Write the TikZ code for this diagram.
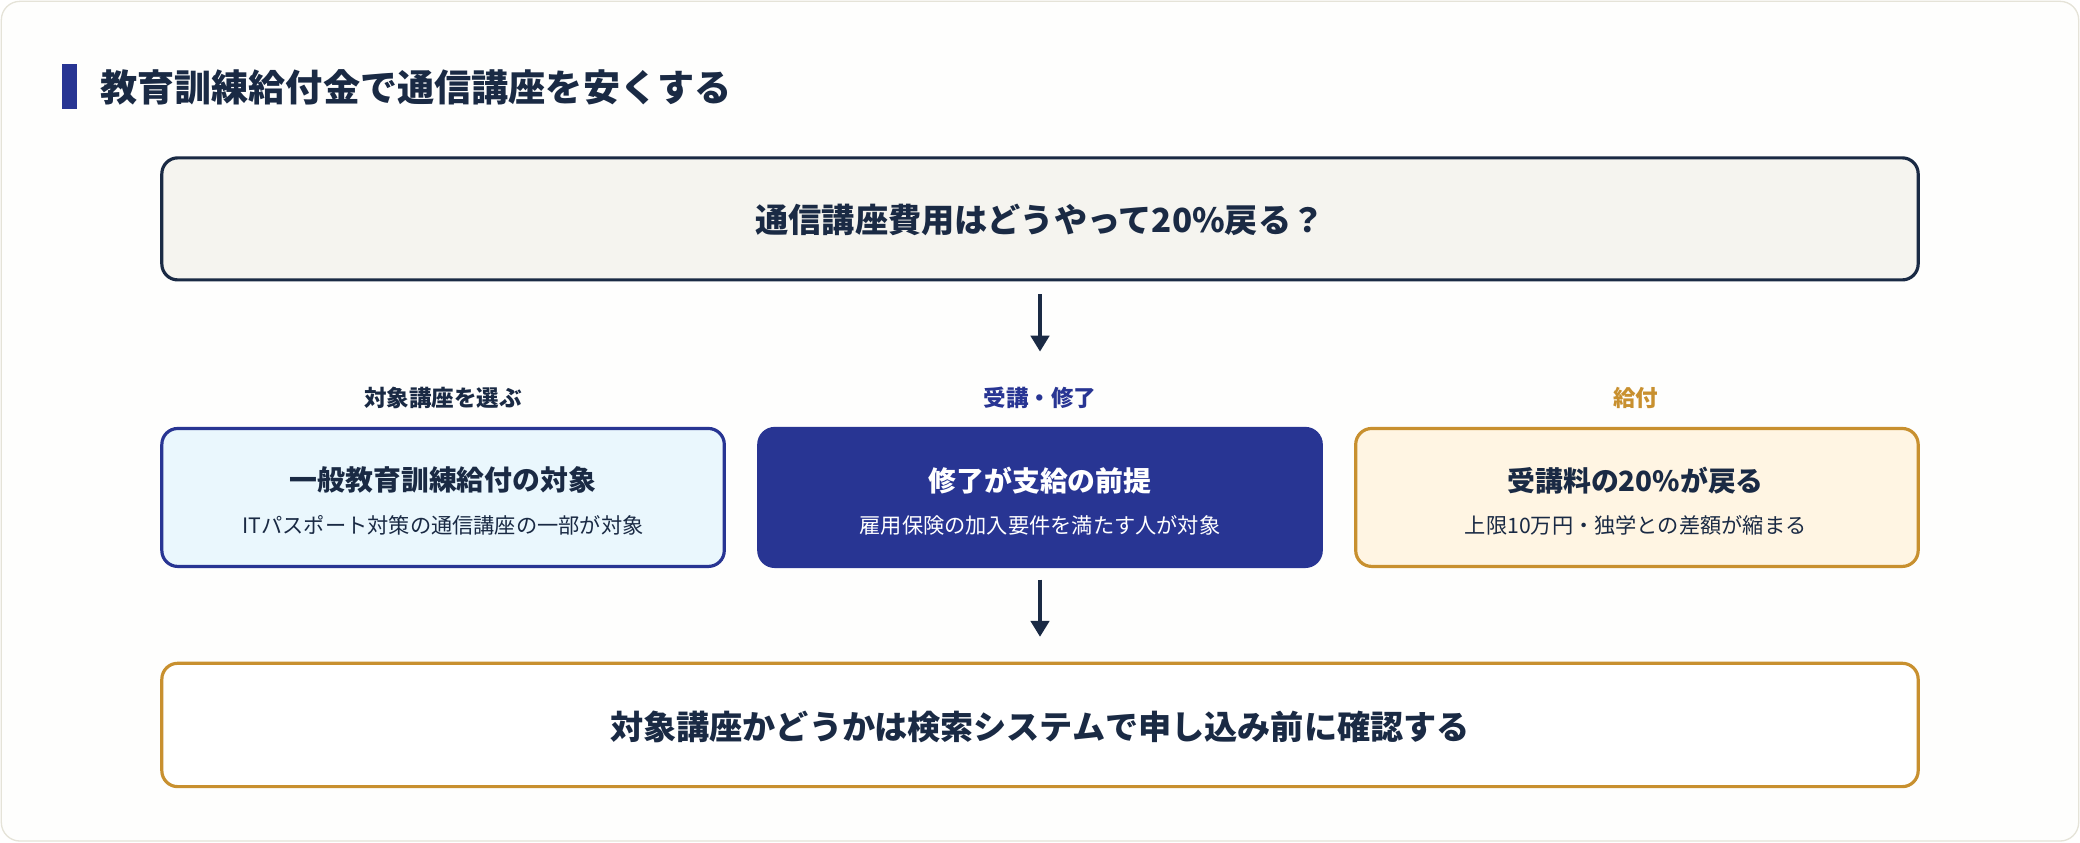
\documentclass[tikz,border=0pt]{standalone}
\usepackage{fontspec}
\setmainfont{Noto Sans CJK JP}
\usetikzlibrary{arrows.meta}
\definecolor{ink}{HTML}{1A2A44}
\definecolor{navy}{HTML}{283593}
\definecolor{gold}{HTML}{C8902F}
\definecolor{cream}{HTML}{F5F4EF}
\definecolor{sky}{HTML}{EAF7FD}
\definecolor{peach}{HTML}{FFF5E3}
\definecolor{bord}{HTML}{E5E3D8}
\begin{document}
\begin{tikzpicture}[x=1pt,y=-1pt,
 box/.style={rounded corners=12pt,line width=2.4pt},
 big/.style={font=\fontsize{25}{30}\selectfont\bfseries,text=ink},
 hd/.style={font=\fontsize{21}{25}\selectfont\bfseries},
 sub/.style={font=\fontsize{16}{20}\selectfont},
 lab/.style={font=\fontsize{17}{20}\selectfont\bfseries},
 arr/.style={-{Triangle[length=12pt,width=14pt]},line width=2.4pt,draw=ink}]
\useasboundingbox (0,0) rectangle (1568,635);
\draw[fill=white!60!cream!30,draw=bord,line width=1pt,rounded corners=14pt] (1,1) rectangle (1567,634);
\fill[navy] (47,48) rectangle (58,82);
\node[anchor=west,font=\fontsize{28}{32}\selectfont\bfseries,text=ink] (title) at (72,66) {教育訓練給付金で通信講座を安くする};
\draw[box,draw=ink,fill=cream] (122,119) rectangle (1446,211);
\node[big] (q) at (784,166) {通信講座費用はどうやって20\%戻る？};
\node[lab,text=ink] (l1) at (334,300) {対象講座を選ぶ};
\node[lab,text=navy] (l2) at (784,300) {受講・修了};
\node[lab,text=gold] (l3) at (1233,300) {給付};
\draw[box,draw=navy,fill=sky] (122,323) rectangle (546,427);
\draw[box,draw=navy,fill=navy] (572,323) rectangle (996,427);
\draw[box,draw=gold,fill=peach] (1022,323) rectangle (1446,427);
\node[hd,text=ink] (a1) at (334,362) {一般教育訓練給付の対象};
\node[sub,text=ink] (a2) at (334,396) {ITパスポート対策の通信講座の一部が対象};
\node[hd,text=white] (b1) at (784,362) {修了が支給の前提};
\node[sub,text=white] (b2) at (784,396) {雇用保険の加入要件を満たす人が対象};
\node[hd,text=ink] (c1) at (1233,362) {受講料の20\%が戻る};
\node[sub,text=ink] (c2) at (1233,396) {上限10万円・独学との差額が縮まる};
\draw[box,draw=gold,fill=white] (122,500) rectangle (1446,593);
\node[big] (f) at (784,548) {対象講座かどうかは検索システムで申し込み前に確認する};
\coordinate (t1) at (784,222); \coordinate (h1) at (784,265);
\coordinate (t2) at (784,437); \coordinate (h2) at (784,480);
\draw[arr] (t1) -- (h1);
\draw[arr] (t2) -- (h2);
\end{tikzpicture}
\end{document}
